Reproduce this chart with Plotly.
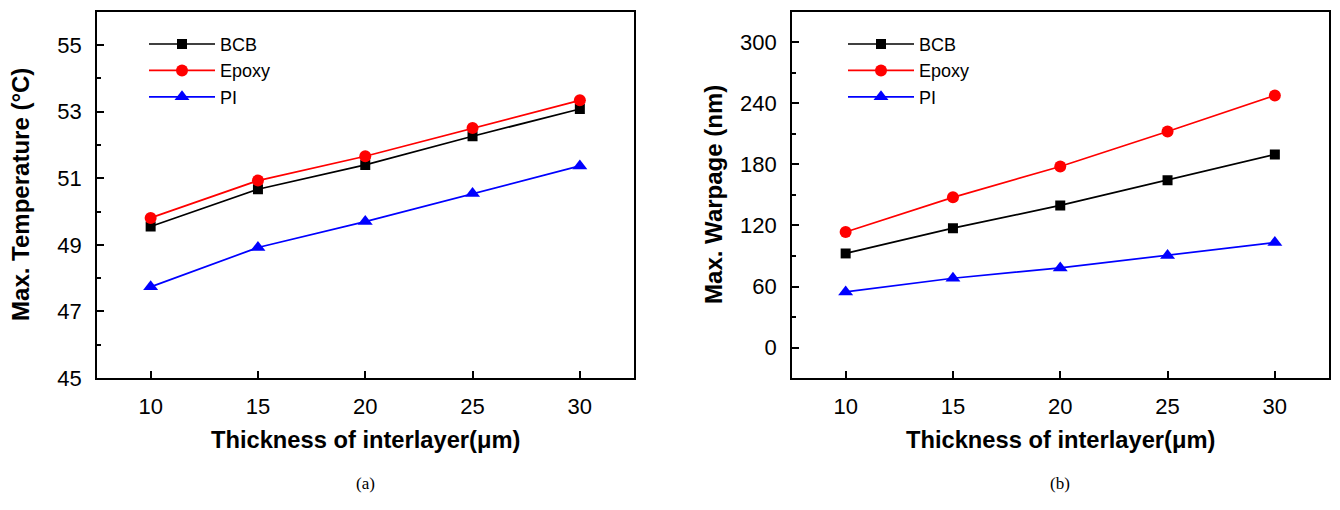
import plotly.graph_objects as go

thickness = [10, 15, 20, 25, 30]
temp_bcb = [49.55, 50.67, 51.40, 52.26, 53.08]
temp_epoxy = [49.81, 50.93, 51.66, 52.51, 53.34]
temp_pi = [47.74, 48.92, 49.70, 50.54, 51.37]
warp_bcb = [92.5, 117.3, 139.7, 164.5, 189.7]
warp_epoxy = [113.5, 147.6, 177.9, 212.3, 247.7]
warp_pi = [54.7, 68.1, 78.3, 90.4, 103.2]
series_names = ["BCB", "Epoxy", "PI"]
series_colors = ["#000000", "#ff0000", "#0000ff"]
series_symbols = ["square", "circle", "triangle-up"]
marker_sizes = [10, 12, 13]

W, H = 1340, 510
FONT = "Liberation Sans, Arial, sans-serif"

fig = go.Figure()

left_data = [temp_bcb, temp_epoxy, temp_pi]
right_data = [warp_bcb, warp_epoxy, warp_pi]
for i, name in enumerate(series_names):
    fig.add_trace(go.Scatter(
        x=thickness, y=left_data[i], name=name, mode="lines+markers",
        line=dict(color=series_colors[i], width=1.7),
        marker=dict(symbol=series_symbols[i], size=marker_sizes[i], color=series_colors[i]),
        xaxis="x", yaxis="y", legend="legend"))
for i, name in enumerate(series_names):
    fig.add_trace(go.Scatter(
        x=thickness, y=right_data[i], name=name, mode="lines+markers",
        line=dict(color=series_colors[i], width=1.7),
        marker=dict(symbol=series_symbols[i], size=marker_sizes[i], color=series_colors[i]),
        xaxis="x2", yaxis="y2", legend="legend2"))

def px_x(p):
    return p / W

def px_y(p):
    return 1 - p / H

axis_common = dict(
    showgrid=False, zeroline=False, showline=True, linecolor="black", linewidth=1.7,
    mirror=True, ticks="inside", ticklen=7, tickwidth=1.5, tickcolor="black",
    tickfont=dict(family=FONT, size=22, color="black"),
)
minor_common = dict(ticks="inside", ticklen=4, tickwidth=1.5, tickcolor="black")

xdom1 = [px_x(97), px_x(633.5)]
xdom2 = [px_x(792), px_x(1328.5)]
ydom = [px_y(388), px_y(12)]

legend_common = dict(xanchor="left", yanchor="top", bgcolor="rgba(0,0,0,0)",
                     font=dict(family=FONT, size=18, color="black"),
                     itemwidth=66, tracegroupgap=0)

fig.update_layout(
    width=W, height=H, margin=dict(l=0, r=0, t=0, b=0),
    plot_bgcolor="white", paper_bgcolor="white",
    xaxis=dict(domain=xdom1, anchor="y", range=[7.5, 32.5], tickvals=thickness,
               ticklabelstandoff=8, **axis_common),
    yaxis=dict(domain=ydom, anchor="x", range=[45, 56], tick0=45, dtick=2,
               minor=dict(dtick=1, tick0=45, **minor_common), ticklabelstandoff=9,
               **axis_common),
    xaxis2=dict(domain=xdom2, anchor="y2", range=[7.5, 32.5], tickvals=thickness,
                ticklabelstandoff=8, **axis_common),
    yaxis2=dict(domain=ydom, anchor="x2", range=[-30, 330], tick0=0, dtick=60,
                minor=dict(dtick=30, tick0=0, **minor_common), ticklabelstandoff=9,
                **axis_common),
    legend=dict(x=px_x(144), y=px_y(26.5), **legend_common),
    legend2=dict(x=px_x(843), y=px_y(26.5), **legend_common),
    showlegend=True,
)

xtitle_font = dict(family=FONT, size=23.7, color="black", weight="bold")
ytitle_font = dict(family=FONT, size=24, color="black", weight="bold")
label_font = dict(family="Liberation Serif, Times New Roman, serif", size=17, color="black")
annotations = [
    dict(text="Thickness of interlayer(μm)", x=(xdom1[0] + xdom1[1]) / 2, y=px_y(451),
         xref="paper", yref="paper", showarrow=False, font=xtitle_font, xanchor="center", yanchor="middle"),
    dict(text="Thickness of interlayer(μm)", x=(xdom2[0] + xdom2[1]) / 2, y=px_y(451),
         xref="paper", yref="paper", showarrow=False, font=xtitle_font, xanchor="center", yanchor="middle"),
    dict(text="Max. Temperature (°C)", x=px_x(21), y=(ydom[0] + ydom[1]) / 2, textangle=-90,
         xref="paper", yref="paper", showarrow=False, font=ytitle_font, xanchor="center", yanchor="middle"),
    dict(text="Max. Warpage (nm)", x=px_x(714), y=(ydom[0] + ydom[1]) / 2, textangle=-90,
         xref="paper", yref="paper", showarrow=False, font=ytitle_font, xanchor="center", yanchor="middle"),
    dict(text="(a)", x=(xdom1[0] + xdom1[1]) / 2, y=px_y(496), xref="paper", yref="paper",
         showarrow=False, font=label_font, xanchor="center", yanchor="middle"),
    dict(text="(b)", x=(xdom2[0] + xdom2[1]) / 2, y=px_y(496), xref="paper", yref="paper",
         showarrow=False, font=label_font, xanchor="center", yanchor="middle"),
]
fig.update_layout(annotations=annotations)

post = (
    "var s=document.createElement('style');"
    "s.textContent='html,body{margin:0;padding:0;width:1340px;height:510px;overflow:hidden;}';"
    "document.head.appendChild(s);"
)
fig.write_html("out.html", config={"displayModeBar": False}, post_script=post)
